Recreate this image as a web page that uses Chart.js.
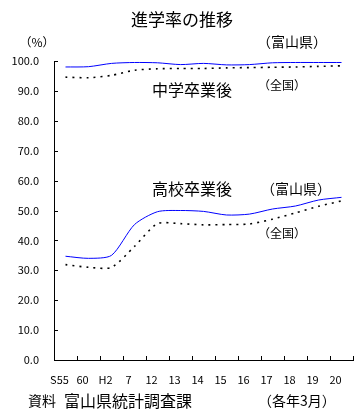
<!DOCTYPE html>
<html lang="ja">
<head>
<meta charset="utf-8">
<script src="https://cdn.jsdelivr.net/npm/chart.js@4/dist/chart.umd.min.js"></script>
<style>
  html, body { margin: 0; padding: 0; background: #fff; }
  #wrap { width: 362px; height: 417px; position: relative; }
</style>
</head>
<body>
<div id="wrap"><canvas id="shingakuChart" width="362" height="417"></canvas></div>
<script>
// 年次（S55〜H20）
const years = ['S55', '60', 'H2', '7', '12', '13', '14', '15', '16', '17', '18', '19', '20'];

// 中学卒業後の進学率
const juniorToyama   = [98.0, 98.1, 99.2, 99.5, 99.4, 98.8, 99.2, 98.7, 98.8, 99.4, 99.5, 99.5, 99.5];
const juniorNational = [94.6, 94.4, 95.2, 96.9, 97.4, 97.5, 97.5, 97.7, 97.8, 97.9, 98.0, 98.2, 98.4];

// 高校卒業後の進学率
const seniorToyama   = [34.7, 34.0, 35.0, 45.3, 49.6, 50.0, 49.7, 48.5, 48.8, 50.5, 51.5, 53.5, 54.4];
const seniorNational = [31.9, 31.0, 31.0, 38.0, 45.6, 45.6, 45.2, 45.3, 45.5, 47.1, 49.2, 51.4, 53.2];

const JP_FONT = "'Noto Sans CJK JP', 'Noto Sans', sans-serif";
Chart.defaults.font.family = JP_FONT;
Chart.defaults.color = '#000';

// 軸の内向き目盛りと注記テキスト
const decorPlugin = {
    id: 'decor',
    afterDraw(chart) {
        const { ctx, chartArea: a, scales: { x, y } } = chart;
        ctx.save();
        ctx.strokeStyle = '#000';
        ctx.lineWidth = 1;
        ctx.beginPath();
        const step = (a.right - a.left) / years.length;
        for (let i = 1; i <= years.length; i++) {
            const px = Math.round(a.left + step * i) + 0.5;
            ctx.moveTo(px, a.bottom);
            ctx.lineTo(px, a.bottom - 4);
        }
        for (let v = 10; v <= 100; v += 10) {
            const py = Math.round(y.getPixelForValue(v)) + 0.5;
            ctx.moveTo(a.left, py);
            ctx.lineTo(a.left + 4, py);
        }
        ctx.stroke();

        ctx.fillStyle = '#000';
        ctx.textAlign = 'center';
        ctx.textBaseline = 'middle';
        const put = (text, px, py, size) => {
            ctx.font = size + 'px ' + JP_FONT;
            ctx.fillText(text, px, py);
        };
        put('進学率の推移', 182, 20, 17);
        put('（%）', 37, 42, 12);
        put('（富山県）', 292, 42, 14);
        put('中学卒業後', 192, 90, 16);
        put('（全国）', 282, 85, 12);
        put('高校卒業後', 192, 189, 16);
        put('（富山県）', 296, 189, 14);
        put('（全国）', 282, 233, 12);
        ctx.textAlign = 'left';
        put('資料', 28, 401, 14);
        put('富山県統計調査課', 64, 401, 16);
        put('（各年3月）', 258, 401, 14);
        ctx.restore();
    }
};

const line = (data, color, dashed) => ({
    data: data,
    borderColor: color,
    borderWidth: dashed ? 1.6 : 1,
    borderDash: dashed ? [2, 5] : [],
    pointRadius: 0,
    tension: 0.25,
    fill: false
});

new Chart(document.getElementById('shingakuChart'), {
    type: 'line',
    data: {
        labels: years,
        datasets: [
            line(juniorToyama, '#0000ff', false),
            line(juniorNational, '#000000', true),
            line(seniorToyama, '#0000ff', false),
            line(seniorNational, '#000000', true)
        ]
    },
    options: {
        responsive: false,
        animation: false,
        layout: { padding: { top: 61, right: 9, left: 0, bottom: 0 } },
        plugins: {
            legend: { display: false },
            title: { display: false },
            tooltip: { enabled: false }
        },
        scales: {
            x: {
                offset: true,
                grid: { display: true, drawOnChartArea: false, drawTicks: false },
                border: { display: true, color: '#000', width: 1 },
                ticks: { padding: 13, labelOffset: -6, maxRotation: 0, autoSkip: false, font: { size: 11 } },
                afterFit: (s) => { s.height = 57; }
            },
            y: {
                min: 0,
                max: 100,
                grid: { display: true, drawOnChartArea: false, drawTicks: false },
                border: { display: true, color: '#000', width: 1 },
                ticks: {
                    stepSize: 10,
                    padding: 15,
                    font: { size: 11 },
                    callback: (v) => Number(v).toFixed(1)
                },
                afterFit: (s) => { s.width = 54; }
            }
        }
    },
    plugins: [decorPlugin]
});
</script>
</body>
</html>
